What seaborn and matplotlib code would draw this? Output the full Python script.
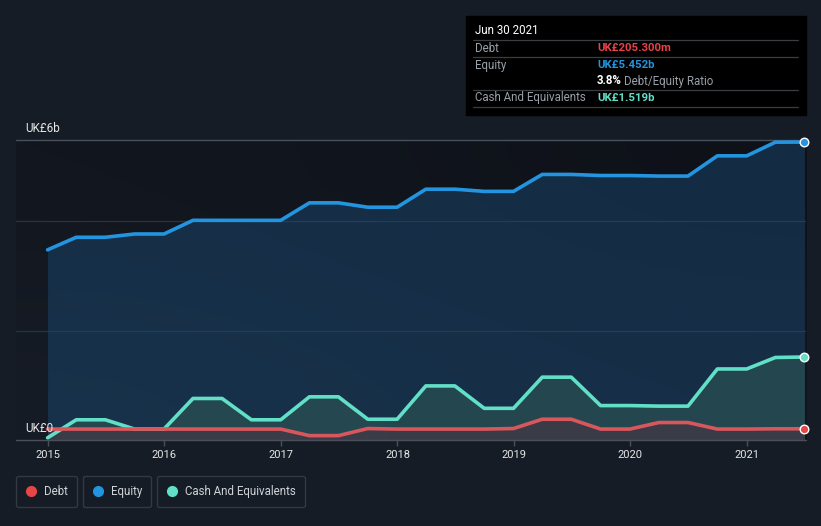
import numpy as np
import pandas as pd
import matplotlib.pyplot as plt
import matplotlib.dates as mdates
from matplotlib.lines import Line2D
from matplotlib.patches import Rectangle
from matplotlib.colors import LinearSegmentedColormap
import seaborn as sns

# =========================================================
# DATA (UK£ billions, quarterly)
# =========================================================
dates = [
    "2014-12-31", "2015-03-31", "2015-06-30", "2015-09-30",
    "2015-12-31", "2016-03-31", "2016-06-30", "2016-09-30",
    "2016-12-31", "2017-03-31", "2017-06-30", "2017-09-30",
    "2017-12-31", "2018-03-31", "2018-06-30", "2018-09-30",
    "2018-12-31", "2019-03-31", "2019-06-30", "2019-09-30",
    "2019-12-31", "2020-03-31", "2020-06-30", "2020-09-30",
    "2020-12-31", "2021-03-31", "2021-06-30",
]
debt = [0.20, 0.20, 0.20, 0.20, 0.20, 0.20, 0.20, 0.20, 0.20, 0.08,
        0.08, 0.21, 0.20, 0.20, 0.20, 0.20, 0.21, 0.38, 0.38, 0.20,
        0.20, 0.32, 0.32, 0.20, 0.20, 0.205, 0.2053]
equity = [3.48, 3.71, 3.71, 3.77, 3.77, 4.02, 4.02, 4.02, 4.02, 4.34,
          4.34, 4.26, 4.26, 4.59, 4.59, 4.55, 4.55, 4.86, 4.86, 4.84,
          4.84, 4.83, 4.83, 5.20, 5.20, 5.45, 5.452]
cash = [0.04, 0.37, 0.37, 0.20, 0.20, 0.76, 0.76, 0.37, 0.37, 0.79,
        0.79, 0.38, 0.38, 0.99, 0.99, 0.58, 0.58, 1.15, 1.15, 0.63,
        0.63, 0.62, 0.62, 1.30, 1.30, 1.51, 1.519]

df = pd.DataFrame({
    "date": pd.to_datetime(dates),
    "Debt": debt,
    "Equity": equity,
    "Cash": cash,
})

# =========================================================
# STYLE
# =========================================================
BG = "#161c26"
C_DEBT = "#d9565c"
C_EQUITY = "#2394df"
C_CASH = "#62dfc7"
GRID = "#2c333d"
TXT = "#e6e6e6"
GREY = "#9aa0a8"

sns.set_theme(style="dark")
plt.rcParams['font.family'] = ['Roboto', 'DejaVu Sans']

W, H = 821, 526
fig = plt.figure(figsize=(W / 100, H / 100), dpi=100, facecolor=BG)


def fx(px):
    return px / W


def fy(py):
    return 1 - py / H


ax = fig.add_axes([fx(16), fy(440), fx(806) - fx(16), fy(140) - fy(440)])
ax.set_facecolor(BG)

# background gradient (lighter bottom-left, darker top-right)
grad = np.array([[0.5, 1.0], [0.0, 0.5]])
cmap_bg = LinearSegmentedColormap.from_list("bg", ["#161c26", "#0e1118"])
ax.imshow(grad, cmap=cmap_bg, extent=(0, 1, 0, 1), transform=ax.transAxes,
          aspect="auto", interpolation="bicubic", zorder=0)

# area fills
ax.fill_between(df["date"], equity, color="#1b4a73", alpha=0.48, lw=0,
                zorder=1)
ax.fill_between(df["date"], cash, color="#335f57", alpha=0.5, lw=0,
                zorder=1.1)
ax.fill_between(df["date"], debt, color="#4f3341", alpha=0.5, lw=0,
                zorder=1.2)

sns.lineplot(data=df, x="date", y="Equity", color=C_EQUITY, lw=2.6, ax=ax,
             zorder=3)
sns.lineplot(data=df, x="date", y="Cash", color=C_CASH, lw=2.6, ax=ax,
             zorder=3)
sns.lineplot(data=df, x="date", y="Debt", color=C_DEBT, lw=2.6, ax=ax,
             zorder=3)

# end markers
last = df.iloc[-1]
for col, c in [("Equity", C_EQUITY), ("Cash", C_CASH), ("Debt", "#e84545")]:
    ax.scatter([last["date"]], [last[col]], s=38, color=c,
               edgecolor="white", linewidth=1.0, zorder=5, clip_on=False)

ax.set_xlim(pd.Timestamp("2014-09-23"), pd.Timestamp("2021-07-05"))
ax.set_ylim(0, 5.49)
ax.set_xlabel("")
ax.set_ylabel("")

# gridlines
for yv in [2, 4]:
    ax.axhline(yv, color=GRID, lw=0.9, zorder=0.5)
ax.axhline(5.49, color="#4a5059", lw=1.0, clip_on=False)
ax.axhline(0, color="#4a5059", lw=1.0, clip_on=False, zorder=6)
ax.grid(False)
for s in ax.spines.values():
    s.set_visible(False)

ax.set_yticks([])
ax.xaxis.set_major_locator(mdates.YearLocator())
ax.xaxis.set_major_formatter(mdates.DateFormatter("%Y"))
ax.tick_params(axis="x", colors="#4a5059", length=4, width=1, pad=3,
               labelcolor=TXT, labelsize=8, bottom=True)

fig.text(fx(25), fy(128), "UK£6b", color=TXT, fontsize=8.5, va="center")
fig.text(fx(25), fy(428), "UK£0", color=TXT, fontsize=8.5, va="center")

# =========================================================
# TOOLTIP
# =========================================================
fig.patches.append(Rectangle((fx(466), fy(115)), fx(806) - fx(466),
                             fy(16) - fy(115), transform=fig.transFigure,
                             color="black", zorder=10))
for ly in [40, 57, 90, 107]:
    fig.lines.append(Line2D([fx(473), fx(798)], [fy(ly), fy(ly)],
                            transform=fig.transFigure, color="#3a3d42",
                            lw=0.9, zorder=11))
fig.text(fx(475), fy(30), "Jun 30 2021", color="white", fontsize=8.3,
         va="center", zorder=12)
rows = [
    (48, "Debt", "UK£205.300m", "#e8414a"),
    (65, "Equity", "UK£5.452b", "#2394df"),
    (98, "Cash And Equivalents", "UK£1.519b", "#5fdfc8"),
]
for ry, lab, val, c in rows:
    fig.text(fx(475), fy(ry), lab, color=GREY, fontsize=8.3, va="center",
             zorder=12)
    fig.text(fx(597), fy(ry), val, color=c, fontsize=8.2, va="center",
             fontweight="semibold", zorder=12)
fig.text(fx(597), fy(81), "3.8%", color="white", fontsize=8.3,
         va="center", fontweight="bold", zorder=12)
fig.text(fx(624), fy(81), "Debt/Equity Ratio", color=GREY, fontsize=8.3,
         va="center", zorder=12)

# =========================================================
# LEGEND
# =========================================================
legend_items = [(16, "Debt", "#e84545"), (83, "Equity", C_EQUITY),
                (157, "Cash And Equivalents", C_CASH)]
for lx, lab, c in legend_items:
    h = Line2D([], [], marker="o", ls="", markersize=7, color=c)
    leg = fig.legend(handles=[h], labels=[lab], loc="lower left",
                     bbox_to_anchor=(fx(lx), fy(507)), borderaxespad=0,
                     frameon=True, fontsize=8.3, labelcolor="#d0d4d9",
                     handletextpad=0.6, borderpad=0.8, handlelength=1.0,
                     fancybox=True)
    leg.get_frame().set_facecolor("none")
    leg.get_frame().set_edgecolor("#3b414b")
    leg.get_frame().set_linewidth(1.0)

fig.savefig("out.png", dpi=100, facecolor=BG)
plt.close()
